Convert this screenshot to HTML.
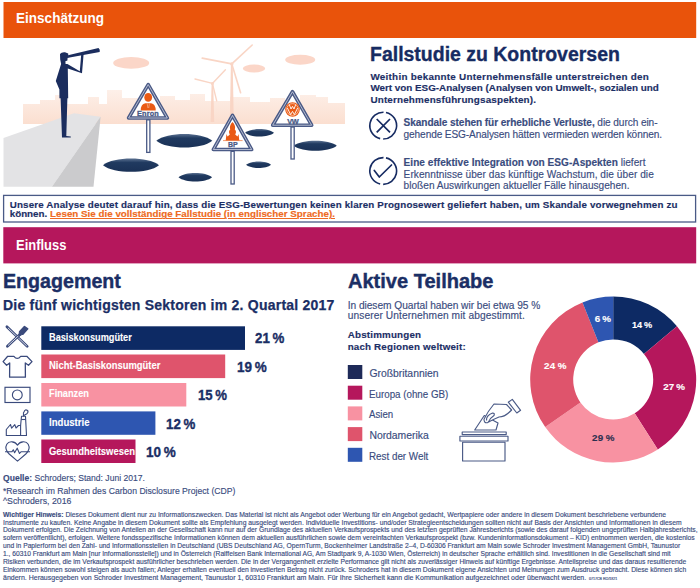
<!DOCTYPE html>
<html><head><meta charset="utf-8"><style>
html,body{margin:0;padding:0;width:700px;height:588px;overflow:hidden;background:#fff;}
body{position:relative;font-family:"Liberation Sans",sans-serif;}
.t{position:absolute;white-space:nowrap;-webkit-text-stroke:0.15px currentColor;}

.bar{position:absolute;}
svg{position:absolute;left:0;top:0;}

</style></head><body>
<svg width="700" height="588" viewBox="0 0 700 588">
<rect x="3.5" y="2" width="692.7" height="36" fill="#e9530b"/>
<defs><linearGradient id="hole" x1="0" y1="0" x2="0" y2="1"><stop offset="0" stop-color="#5a7090"/><stop offset="0.3" stop-color="#203a60"/><stop offset="1" stop-color="#1a3156"/></linearGradient><linearGradient id="sky" x1="0" y1="0" x2="0" y2="1"><stop offset="0" stop-color="#fdf0e9"/><stop offset="1" stop-color="#fbdfd0"/></linearGradient></defs><path fill="url(#sky)" d="M23,124 L23,104 L40,104 L40,100 L55,100 L55,95 L62,95 L62,104 L88,104 L88,97 L99,97 L99,104 L107,104 L107,90 L122,90 L122,98 L138,98 L138,102 L160,102 L160,96 L175,96 L175,100 L190,100 L190,94 L205,94 L205,101 L230,101 L230,97 L250,97 L250,102 L270,102 L270,98 L285,98 L285,101 L300,101 L300,95 L316,95 L316,97 L328,97 L328,103 L345,103 L345,124 Z"/><ellipse cx="131.2" cy="62.9" rx="18" ry="5.8" fill="#fbd6c8"/><ellipse cx="254" cy="68.5" rx="11.2" ry="4" fill="#fbd6c8"/><ellipse cx="300.2" cy="59.8" rx="15" ry="5" fill="#fbd6c8"/><g fill="#f9d5c5"><path d="M230.9,63.5 L232.7,63.5 L233.8,122 L229.8,122 Z"/><path d="M211.6,83.5 L213.2,83.5 L214.2,122 L210.6,122 Z"/><circle cx="231.8" cy="63.9" r="1.7"/><circle cx="212.4" cy="83.4" r="1.5"/></g><g stroke="#f9d5c5" stroke-linecap="round" fill="none"><path d="M231.8,63.9 L252.2,45 M231.8,63.9 L202.2,58.1 M231.8,63.9 L240.6,92.8" stroke-width="1.6"/><path d="M212.4,83.4 L225.4,69.7 M212.4,83.4 L195,79 M212.4,83.4 L216.7,100.8" stroke-width="1.4"/></g><path d="M3.5,138 L73.9,113.2 L100.6,116.8 L51.9,186.7 L3.5,186.7 Z" fill="#e3e3e5"/><path d="M100.6,116.8 L93.5,186.7 L51.9,186.7 Z" fill="#cbcbcd"/><g fill="#1b2d5e"><path d="M68,55.3 L98.5,48 Q100.4,49.4 99.7,51.9 L68.3,57.8 Z"/><path d="M60,54 Q61.5,51.8 65,52.2 L68.2,53.6 L68.3,56 L69.2,57.2 L67.6,58 L67.4,60.6 L65.4,61.2 L65.6,64.3 L61.2,64.3 L60.2,59.5 Z"/><path d="M61.1,64.1 L67.4,64.1 L79.8,71.2 L81.2,54.6 L83.6,54.2 L82,73.2 L67.8,68.6 L68.2,98.3 L59.4,98.3 L59.4,89.6 L55.8,81.1 Z"/><path d="M60.6,97.8 L67.4,97.8 L66.3,136 L70.8,136.4 L70.8,137.6 L62,137.6 Z"/></g><path d="M103,165.2 C113.64,156.422 148.36,156.422 159,165.2 C148.36,173.97799999999998 113.64,173.97799999999998 103,165.2 Z" fill="url(#hole)"/><path d="M156.3,140.8 C166.94,131.756 201.66000000000003,131.756 212.3,140.8 C201.66000000000003,149.84400000000002 166.94,149.84400000000002 156.3,140.8 Z" fill="url(#hole)"/><path d="M178.5,177.3 C184.88400000000001,171.58100000000002 205.716,171.58100000000002 212.10000000000002,177.3 C205.716,183.019 184.88400000000001,183.019 178.5,177.3 Z" fill="url(#hole)"/><path d="M245.0,132.8 C250.51,127.74600000000001 268.49,127.74600000000001 274.0,132.8 C268.49,137.854 250.51,137.854 245.0,132.8 Z" fill="url(#hole)"/><path d="M293.8,145.8 C301.97,139.15 328.63,139.15 336.8,145.8 C328.63,152.45000000000002 301.97,152.45000000000002 293.8,145.8 Z" fill="url(#hole)"/><path d="M246.0,164.8 C250.75,160.544 266.25,160.544 271.0,164.8 C266.25,169.056 250.75,169.056 246.0,164.8 Z" fill="url(#hole)"/><rect x="146.70" y="119.81666666666666" width="3.2" height="32.58" fill="#fff" stroke="#4a5a86" stroke-width="1.3"/><path d="M148.19,84.56 L167.36,118.02 L128.57,118.02 Z" fill="#fff" stroke="#4a5a86" stroke-width="3.6" stroke-linejoin="round"/><path d="M148.19,84.56 L167.36,118.02 L128.57,118.02 Z" fill="none" stroke="#dfe3ee" stroke-width="0.7" stroke-linejoin="round"/><rect x="231.00" y="151.32833333333332" width="3.2" height="32.67" fill="#fff" stroke="#4a5a86" stroke-width="1.3"/><path d="M232.50,115.42 L251.68,149.53 L213.32,149.53 Z" fill="#fff" stroke="#4a5a86" stroke-width="3.6" stroke-linejoin="round"/><path d="M232.50,115.42 L251.68,149.53 L213.32,149.53 Z" fill="none" stroke="#dfe3ee" stroke-width="0.7" stroke-linejoin="round"/><rect x="291.00" y="127.01666666666668" width="3.2" height="31.98" fill="#fff" stroke="#4a5a86" stroke-width="1.3"/><path d="M292.49,91.74 L311.67,125.22 L272.67,125.22 Z" fill="#fff" stroke="#4a5a86" stroke-width="3.6" stroke-linejoin="round"/><path d="M292.49,91.74 L311.67,125.22 L272.67,125.22 Z" fill="none" stroke="#dfe3ee" stroke-width="0.7" stroke-linejoin="round"/><ellipse cx="148.2" cy="97.4" rx="3.9" ry="4.4" fill="#ea5a14"/><path d="M140.7,110.4 Q140.7,104.2 145.3,103.2 L151.1,103.2 Q155.7,104.2 155.7,110.4 Z" fill="#ea5a14"/><path d="M147.2,103.6 L147.9,108 M149.4,103.6 L148.7,108" stroke="#fbd0b8" stroke-width="0.5"/><path d="M232.5,122 Q236,125.5 234.8,129.5 Q237,131.5 235.2,134.5 L237.5,136.5 L238.5,134 L239.3,140.5 L225.7,140.5 L226.5,134 L227.5,136.5 L229.8,134.5 Q228,131.5 230.2,129.5 Q229,125.5 232.5,122 Z" fill="#ea5a14"/><path d="M223,140.6 L242.6,140.6" stroke="#ea5a14" stroke-width="0.6"/><circle cx="292.5" cy="109.5" r="7.3" fill="#ea5a14"/><circle cx="292.5" cy="109.5" r="5.9" stroke="#fbd3bd" stroke-width="0.7" fill="none"/><path d="M289.3,104.6 L291,109 L292.5,106.3 L294,109 L295.7,104.6 M287.4,108 L290.6,114.6 L292.5,111.4 L294.4,114.6 L297.6,108" stroke="#fff" stroke-width="0.9" fill="none" stroke-linejoin="round"/><g font-family="Liberation Sans" font-weight="bold" fill="#4a5a86" text-anchor="middle"><text x="148" y="116" font-size="7.3" letter-spacing="0.15" stroke="#4a5a86" stroke-width="0.3">Enron</text><text x="232.8" y="146.6" font-size="7" stroke="#4a5a86" stroke-width="0.25">BP</text><text x="292.9" y="123.7" font-size="7.4" letter-spacing="-0.4" stroke="#4a5a86" stroke-width="0.25">VW</text></g>
<g fill="none" stroke="#162b62" stroke-width="1.6"><circle cx="383.2" cy="125.6" r="13.4" stroke-dasharray="39 3.1 39 3.1" transform="rotate(-78 383.2 125.6)"/><path d="M376.7,119 L390,132.3 M390,119 L376.7,132.3" stroke-width="1.7"/><circle cx="383.2" cy="171" r="13.4" stroke-dasharray="39 3.1 39 3.1" transform="rotate(-78 383.2 171)"/><path d="M374.3,170.5 L379.3,177 L391.5,165" stroke-width="1.7" stroke-linecap="round" stroke-linejoin="round"/></g>
<rect x="3.6" y="195.4" width="692" height="26.6" fill="none" stroke="#4a5a86" stroke-width="1.3"/>
<rect x="3.3" y="227.2" width="692.9" height="36.2" fill="#b5175c"/>
<rect x="41.3" y="326.3" width="203.70" height="23.60" fill="#0d2a64"/><rect x="41.3" y="354.5" width="183.90" height="23.60" fill="#df546c"/><rect x="41.3" y="383" width="145.00" height="23.50" fill="#f892a2"/><rect x="41.3" y="411.4" width="114.10" height="23.40" fill="#2e56b1"/><rect x="41.3" y="439.5" width="94.20" height="23.50" fill="#b5175c"/>
<g fill="none" stroke-linecap="round" stroke-linejoin="round"><path d="M6.9,326.7 L27.2,346.4" stroke="#3a4a7c" stroke-width="2.7"/><path d="M8.2,328.1 L26.5,345.7" stroke="#fff" stroke-width="0.8"/><path d="M19.6,334.7 L7.4,346.2" stroke="#3a4a7c" stroke-width="2.7"/><path d="M18.4,335.9 L8.3,345.3" stroke="#fff" stroke-width="0.8"/><path d="M19.6,331.9 L24.5,326.6 L27.7,328.8 L22.8,334.2 Z" fill="#3a4a7c" stroke="#3a4a7c" stroke-width="1.6"/><path d="M19.4,332 L18.9,336 L22.8,334.2" fill="#3a4a7c" stroke="#3a4a7c" stroke-width="1"/></g><path d="M7.7,356.3 L13.9,356.3 Q17.3,360.6 20.7,356.3 L26.8,356.3 L32,361.6 L28.5,365.3 L25.3,363 L25.4,377.2 L9.6,377.2 L9.7,363 L6.6,365.3 L3.1,361.6 Z" fill="none" stroke="#3a4a7c" stroke-width="1.3" stroke-linejoin="round"/><rect x="5" y="387.3" width="25" height="15.2" fill="none" stroke="#3a4a7c" stroke-width="1.15"/><circle cx="17.3" cy="394.9" r="4.9" fill="none" stroke="#3a4a7c" stroke-width="1.15"/><g fill="none" stroke="#3a4a7c" stroke-width="1.1" stroke-linejoin="round"><path d="M6.3,435.5 L6.3,429.5 L10.5,424.5 L11.6,428.2 L14.8,424.6 L16,428 L18.5,425.5 L20.6,425.5 L20.6,435.5 Z"/><path d="M20.6,435.5 L26.5,435.5 L25.5,416.2 L21.5,416.2 L20.6,425.5"/><path d="M21.2,419.5 L25.8,419.5"/><path d="M23.5,415.8 Q23,412.5 24.2,411.5 Q25,409 27.6,410.4 Q28.8,412.3 26.6,414 Q25,414.5 23.5,415.8 Z"/></g><g fill="none" stroke="#3a4a7c" stroke-width="1.1" stroke-linejoin="round"><path d="M17.5,445.2 C15.2,441.2 9,440.6 6.8,444.2 C4.8,447.8 6.6,451.4 9.2,454 L17.5,461.2 L25.8,454 C28.4,451.4 30.2,447.8 28.2,444.2 C26,440.6 19.8,441.2 17.5,445.2 Z"/><path d="M5,451.8 L11.8,451.8 L13.3,449.8 L14.6,452.8 L17.2,448.2 L19.5,453.5 L21,451.8 L30,451.8"/></g>
<rect x="347.8" y="365.00" width="14.5" height="14" fill="#1e2a58"/><rect x="347.8" y="385.70" width="14.5" height="14" fill="#b5175c"/><rect x="347.8" y="406.40" width="14.5" height="14" fill="#f892a2"/><rect x="347.8" y="427.10" width="14.5" height="14" fill="#df546c"/><rect x="347.8" y="447.80" width="14.5" height="14" fill="#2e56b1"/>
<g fill="none" stroke="#4a5a86" stroke-width="1.15" stroke-linejoin="round"><rect x="462.2" y="432" width="44" height="2.6"/><rect x="459.9" y="436.2" width="48.1" height="4.8"/><rect x="462.6" y="442.2" width="42.4" height="18.8"/><path d="M474.7,430 L484.3,415.5 L498,423 L496,430 Z" fill="#fff"/><path d="M484,419.3 Q488,411 494,404 L506.5,404.5 L511.6,410 Q505,417 499,417 Q494,419 487.6,422.6 Q484,423.5 484,419.3 Z" fill="#fff"/><path d="M486.5,420.5 Q486,415.5 492.6,413 Q495,413 494,415.5 Q490,418 488.5,422"/><path d="M508.3,402.2 L512.3,399.4 L520.6,410.3 L516.8,413 Z"/></g>
<path d="M613.20,296.50 A83,83 0 0 1 676.97,326.37 L643.93,353.90 A40,40 0 0 0 613.20,339.50 Z" fill="#0d2a64"/><path d="M676.97,326.37 A83,83 0 0 1 657.80,449.50 L634.69,413.24 A40,40 0 0 0 643.93,353.90 Z" fill="#b5175c"/><path d="M657.80,449.50 A83,83 0 0 1 545.21,427.11 L580.43,402.44 A40,40 0 0 0 634.69,413.24 Z" fill="#f892a2"/><path d="M545.21,427.11 A83,83 0 0 1 582.51,302.38 L598.41,342.33 A40,40 0 0 0 580.43,402.44 Z" fill="#df546c"/><path d="M582.51,302.38 A83,83 0 0 1 613.20,296.50 L613.20,339.50 A40,40 0 0 0 598.41,342.33 Z" fill="#2e56b1"/>
</svg>
<div class="t" id="h1" style="left:16.20px;top:11.41px;font-size:14.2px;line-height:14.2px;font-weight:bold;color:#fff;letter-spacing:0.000px;transform:scaleX(0.9552);transform-origin:0 0;-webkit-text-stroke:0">Einschätzung</div>
<div class="t" id="fall" style="left:369.60px;top:44.11px;font-size:20px;line-height:20px;font-weight:bold;color:#162b62;letter-spacing:0.000px;transform:scaleX(0.9734);transform-origin:0 0;-webkit-text-stroke:0.35px #162b62">Fallstudie zu Kontroversen</div>
<div class="t" id="s1" style="left:370.40px;top:71.71px;font-size:9.9px;line-height:9.9px;font-weight:bold;color:#1c2f66;letter-spacing:0.260px">Weithin bekannte Unternehmensfälle unterstreichen den</div>
<div class="t" id="s2" style="left:370.40px;top:83.31px;font-size:9.9px;line-height:9.9px;font-weight:bold;color:#1c2f66;letter-spacing:-0.020px">Wert von ESG-Analysen (Analysen von Umwelt-, sozialen und</div>
<div class="t" id="s3" style="left:370.40px;top:94.71px;font-size:9.9px;line-height:9.9px;font-weight:bold;color:#1c2f66;letter-spacing:0.166px">Unternehmensführungsaspekten).</div>
<div class="t" id="r1a" style="left:403.60px;top:117.91px;font-size:10.1px;line-height:10.1px;font-weight:normal;color:#3a4c7e;letter-spacing:-0.077px"><b>Skandale stehen für erhebliche Verluste,</b> die durch ein-</div>
<div class="t" id="r1b" style="left:403.60px;top:129.51px;font-size:10.1px;line-height:10.1px;font-weight:normal;color:#3a4c7e;letter-spacing:-0.105px">gehende ESG-Analysen hätten vermieden werden können.</div>
<div class="t" id="r2a" style="left:403.60px;top:158.10px;font-size:10.1px;line-height:10.1px;font-weight:normal;color:#3a4c7e;letter-spacing:0.014px"><b>Eine effektive Integration von ESG-Aspekten</b> liefert</div>
<div class="t" id="r2b" style="left:403.60px;top:169.80px;font-size:10.1px;line-height:10.1px;font-weight:normal;color:#3a4c7e;letter-spacing:0.060px">Erkenntnisse über das künftige Wachstum, die über die</div>
<div class="t" id="r2c" style="left:403.60px;top:181.30px;font-size:10.1px;line-height:10.1px;font-weight:normal;color:#3a4c7e;letter-spacing:0.007px">bloßen Auswirkungen aktueller Fälle hinausgehen.</div>
<div class="t" id="box1" style="left:9.70px;top:200.11px;font-size:9.8px;line-height:9.8px;font-weight:bold;color:#1c2f66;letter-spacing:0.149px">Unsere Analyse deutet darauf hin, dass die ESG-Bewertungen keinen klaren Prognosewert geliefert haben, um Skandale vorwegnehmen zu</div>
<div class="t" id="box2" style="left:9.70px;top:209.41px;font-size:9.8px;line-height:9.8px;font-weight:bold;color:#1c2f66;letter-spacing:0.004px">können. <span style="color:#ee6a22;text-decoration:underline;text-underline-offset:1px">Lesen Sie die vollständige Fallstudie (in englischer Sprache).</span></div>
<div class="t" id="h2" style="left:16.10px;top:238.41px;font-size:14.2px;line-height:14.2px;font-weight:bold;color:#fff;letter-spacing:0.000px;transform:scaleX(0.9133);transform-origin:0 0;-webkit-text-stroke:0">Einfluss</div>
<div class="t" id="eng" style="left:2.80px;top:270.51px;font-size:20.5px;line-height:20.5px;font-weight:bold;color:#1c2f66;letter-spacing:0.000px;transform:scaleX(0.9583);transform-origin:0 0;-webkit-text-stroke:0.4px #162b62">Engagement</div>
<div class="t" id="die" style="left:3.00px;top:297.60px;font-size:14px;line-height:14px;font-weight:bold;color:#1c2f66;letter-spacing:0.231px;-webkit-text-stroke:0.25px #162b62">Die fünf wichtigsten Sektoren im 2. Quartal 2017</div>
<div class="t" id="b1" style="left:48.50px;top:332.50px;font-size:10px;line-height:10px;font-weight:bold;color:#fff;letter-spacing:0.000px;transform:scaleX(0.9197);transform-origin:0 0;-webkit-text-stroke:0.1px #fff">Basiskonsumgüter</div>
<div class="t" id="b2" style="left:48.50px;top:361.00px;font-size:10px;line-height:10px;font-weight:bold;color:#fff;letter-spacing:0.000px;transform:scaleX(0.9412);transform-origin:0 0;-webkit-text-stroke:0.1px #fff">Nicht-Basiskonsumgüter</div>
<div class="t" id="b3" style="left:48.50px;top:389.31px;font-size:10px;line-height:10px;font-weight:bold;color:#fff;letter-spacing:0.000px;transform:scaleX(0.9229);transform-origin:0 0;-webkit-text-stroke:0.1px #fff">Finanzen</div>
<div class="t" id="b4" style="left:48.50px;top:418.00px;font-size:10px;line-height:10px;font-weight:bold;color:#fff;letter-spacing:0.000px;transform:scaleX(0.9589);transform-origin:0 0;-webkit-text-stroke:0.1px #fff">Industrie</div>
<div class="t" id="b5" style="left:48.50px;top:446.61px;font-size:10px;line-height:10px;font-weight:bold;color:#fff;letter-spacing:0.000px;transform:scaleX(0.9425);transform-origin:0 0;-webkit-text-stroke:0.1px #fff">Gesundheitswesen</div>
<div class="t" id="p1" style="left:255.30px;top:331.40px;font-size:14.5px;line-height:14.5px;font-weight:bold;color:#1c2f66;letter-spacing:0.000px;transform:scaleX(0.9174);transform-origin:0 0;-webkit-text-stroke:0.35px #162b62">21&#8201;%</div>
<div class="t" id="p2" style="left:236.80px;top:359.90px;font-size:14.5px;line-height:14.5px;font-weight:bold;color:#1c2f66;letter-spacing:0.000px;transform:scaleX(0.9299);transform-origin:0 0;-webkit-text-stroke:0.35px #162b62">19&#8201;%</div>
<div class="t" id="p3" style="left:198.00px;top:388.40px;font-size:14.5px;line-height:14.5px;font-weight:bold;color:#1c2f66;letter-spacing:0.000px;transform:scaleX(0.9080);transform-origin:0 0;-webkit-text-stroke:0.35px #162b62">15&#8201;%</div>
<div class="t" id="p4" style="left:165.70px;top:416.90px;font-size:14.5px;line-height:14.5px;font-weight:bold;color:#1c2f66;letter-spacing:0.000px;transform:scaleX(0.9174);transform-origin:0 0;-webkit-text-stroke:0.35px #162b62">12&#8201;%</div>
<div class="t" id="p5" style="left:145.80px;top:445.40px;font-size:14.5px;line-height:14.5px;font-weight:bold;color:#1c2f66;letter-spacing:0.000px;transform:scaleX(0.9331);transform-origin:0 0;-webkit-text-stroke:0.35px #162b62">10&#8201;%</div>
<div class="t" id="akt" style="left:347.60px;top:270.51px;font-size:20.5px;line-height:20.5px;font-weight:bold;color:#1c2f66;letter-spacing:0.000px;transform:scaleX(0.9773);transform-origin:0 0;-webkit-text-stroke:0.4px #162b62">Aktive Teilhabe</div>
<div class="t" id="in1" style="left:347.70px;top:300.60px;font-size:10.2px;line-height:10.2px;font-weight:normal;color:#3a4c7e;letter-spacing:-0.041px">In diesem Quartal haben wir bei etwa 95 %</div>
<div class="t" id="in2" style="left:347.70px;top:311.31px;font-size:10.2px;line-height:10.2px;font-weight:normal;color:#3a4c7e;letter-spacing:0.099px">unserer Unternehmen mit abgestimmt.</div>
<div class="t" id="ab1" style="left:347.70px;top:329.91px;font-size:9.8px;line-height:9.8px;font-weight:bold;color:#1c2f66;letter-spacing:0.190px">Abstimmungen</div>
<div class="t" id="ab2" style="left:347.70px;top:341.61px;font-size:9.8px;line-height:9.8px;font-weight:bold;color:#1c2f66;letter-spacing:0.168px">nach Regionen weltweit:</div>
<div class="t" id="l1" style="left:369.40px;top:369.30px;font-size:10.4px;line-height:10.4px;font-weight:normal;color:#3a4c7e;letter-spacing:-0.016px">Großbritannien</div>
<div class="t" id="l2" style="left:369.40px;top:389.80px;font-size:10.4px;line-height:10.4px;font-weight:normal;color:#3a4c7e;letter-spacing:0.000px;transform:scaleX(0.9404);transform-origin:0 0">Europa (ohne GB)</div>
<div class="t" id="l3" style="left:369.40px;top:410.40px;font-size:10.4px;line-height:10.4px;font-weight:normal;color:#3a4c7e;letter-spacing:0.000px;transform:scaleX(0.9269);transform-origin:0 0">Asien</div>
<div class="t" id="l4" style="left:369.40px;top:431.01px;font-size:10.4px;line-height:10.4px;font-weight:normal;color:#3a4c7e;letter-spacing:-0.018px">Nordamerika</div>
<div class="t" id="l5" style="left:369.40px;top:451.60px;font-size:10.4px;line-height:10.4px;font-weight:normal;color:#3a4c7e;letter-spacing:0.000px;transform:scaleX(0.9450);transform-origin:0 0">Rest der Welt</div>
<div class="t" id="d14" style="left:631.80px;top:320.02px;font-size:9.8px;line-height:9.8px;font-weight:bold;color:#fff;letter-spacing:0.000px;transform:scaleX(0.9361);transform-origin:0 0">14&#8201;%</div>
<div class="t" id="d27" style="left:663.20px;top:381.71px;font-size:9.8px;line-height:9.8px;font-weight:bold;color:#fff;letter-spacing:0.074px">27&#8201;%</div>
<div class="t" id="d29" style="left:591.90px;top:432.52px;font-size:9.8px;line-height:9.8px;font-weight:bold;color:#2b2f4f;letter-spacing:0.341px">29&#8201;%</div>
<div class="t" id="d24" style="left:543.90px;top:361.02px;font-size:9.8px;line-height:9.8px;font-weight:bold;color:#fff;letter-spacing:0.341px">24&#8201;%</div>
<div class="t" id="d6" style="left:594.70px;top:314.41px;font-size:9.8px;line-height:9.8px;font-weight:bold;color:#fff;letter-spacing:0.087px">6&#8201;%</div>
<div class="t" id="q1" style="left:2.60px;top:473.10px;font-size:9.9px;line-height:9.9px;font-weight:normal;color:#3a4c7e;letter-spacing:0.000px;transform:scaleX(0.8674);transform-origin:0 0"><b>Quelle:</b> Schroders; Stand: Juni 2017.</div>
<div class="t" id="q2" style="left:2.60px;top:486.40px;font-size:9.9px;line-height:9.9px;font-weight:normal;color:#3a4c7e;letter-spacing:0.000px;transform:scaleX(0.8749);transform-origin:0 0">*Research im Rahmen des Carbon Disclosure Project (CDP)</div>
<div class="t" id="q3" style="left:2.60px;top:495.60px;font-size:9.9px;line-height:9.9px;font-weight:normal;color:#3a4c7e;letter-spacing:0.000px;transform:scaleX(0.8871);transform-origin:0 0">^Schroders, 2016</div>
<div class="t" id="f0" style="left:2.80px;top:510.61px;font-size:7.3px;line-height:7.3px;font-weight:normal;color:#3a4c7e;letter-spacing:0.000px;transform:scaleX(0.9277);transform-origin:0 0"><b>Wichtiger Hinweis:</b> Dieses Dokument dient nur zu Informationszwecken. Das Material ist nicht als Angebot oder Werbung für ein Angebot gedacht, Wertpapiere oder andere in diesem Dokument beschriebene verbundene</div>
<div class="t" id="f1" style="left:2.80px;top:518.54px;font-size:7.3px;line-height:7.3px;font-weight:normal;color:#3a4c7e;letter-spacing:0.000px;transform:scaleX(0.9304);transform-origin:0 0">Instrumente zu kaufen. Keine Angabe in diesem Dokument sollte als Empfehlung ausgelegt werden. Individuelle Investitions- und/oder Strategieentscheidungen sollten nicht auf Basis der Ansichten und Informationen in diesem</div>
<div class="t" id="f2" style="left:2.80px;top:526.47px;font-size:7.3px;line-height:7.3px;font-weight:normal;color:#3a4c7e;letter-spacing:0.000px;transform:scaleX(0.9250);transform-origin:0 0">Dokument erfolgen. Die Zeichnung von Anteilen an der Gesellschaft kann nur auf der Grundlage des aktuellen Verkaufsprospekts und des letzten geprüften Jahresberichts (sowie des darauf folgenden ungeprüften Halbjahresberichts,</div>
<div class="t" id="f3" style="left:2.80px;top:534.40px;font-size:7.3px;line-height:7.3px;font-weight:normal;color:#3a4c7e;letter-spacing:0.000px;transform:scaleX(0.9322);transform-origin:0 0">sofern veröffentlicht), erfolgen. Weitere fondsspezifische Informationen können dem aktuellen ausführlichen sowie dem vereinfachten Verkaufsprospekt (bzw. Kundeninformationsdokument – KID) entnommen werden, die kostenlos</div>
<div class="t" id="f4" style="left:2.80px;top:542.34px;font-size:7.3px;line-height:7.3px;font-weight:normal;color:#3a4c7e;letter-spacing:0.000px;transform:scaleX(0.9199);transform-origin:0 0">und in Papierform bei den Zahl- und Informationsstellen in Deutschland (UBS Deutschland AG, OpernTurm, Bockenheimer Landstraße 2–4, D-60306 Frankfurt am Main sowie Schroder Investment Management GmbH, Taunustor</div>
<div class="t" id="f5" style="left:2.80px;top:550.26px;font-size:7.3px;line-height:7.3px;font-weight:normal;color:#3a4c7e;letter-spacing:0.000px;transform:scaleX(0.9163);transform-origin:0 0">1., 60310 Frankfurt am Main [nur Informationsstelle]) und in Österreich (Raiffeisen Bank International AG, Am Stadtpark 9, A-1030 Wien, Österreich) in deutscher Sprache erhältlich sind. Investitionen in die Gesellschaft sind mit</div>
<div class="t" id="f6" style="left:2.80px;top:558.18px;font-size:7.3px;line-height:7.3px;font-weight:normal;color:#3a4c7e;letter-spacing:0.000px;transform:scaleX(0.9224);transform-origin:0 0">Risiken verbunden, die im Verkaufsprospekt ausführlicher beschrieben werden. Die in der Vergangenheit erzielte Performance gilt nicht als zuverlässiger Hinweis auf künftige Ergebnisse. Anteilspreise und das daraus resultierende</div>
<div class="t" id="f7" style="left:2.80px;top:566.12px;font-size:7.3px;line-height:7.3px;font-weight:normal;color:#3a4c7e;letter-spacing:0.000px;transform:scaleX(0.9234);transform-origin:0 0">Einkommen können sowohl steigen als auch fallen; Anleger erhalten eventuell den investierten Betrag nicht zurück. Schroders hat in diesem Dokument eigene Ansichten und Meinungen zum Ausdruck gebracht. Diese können sich</div>
<div class="t" id="f8" style="left:2.80px;top:574.04px;font-size:7.3px;line-height:7.3px;font-weight:normal;color:#3a4c7e;letter-spacing:0.000px;transform:scaleX(0.9594);transform-origin:0 0">ändern. Herausgegeben von Schroder Investment Management, Taunustor 1, 60310 Frankfurt am Main. Für Ihre Sicherheit kann die Kommunikation aufgezeichnet oder überwacht werden.</div>
<div class="t" id="fcode" style="left:589.00px;top:578.02px;font-size:3.6px;line-height:3.6px;font-weight:normal;color:#3a4c7e;letter-spacing:0.000px">0717CB RO/1821</div>
</body></html>
